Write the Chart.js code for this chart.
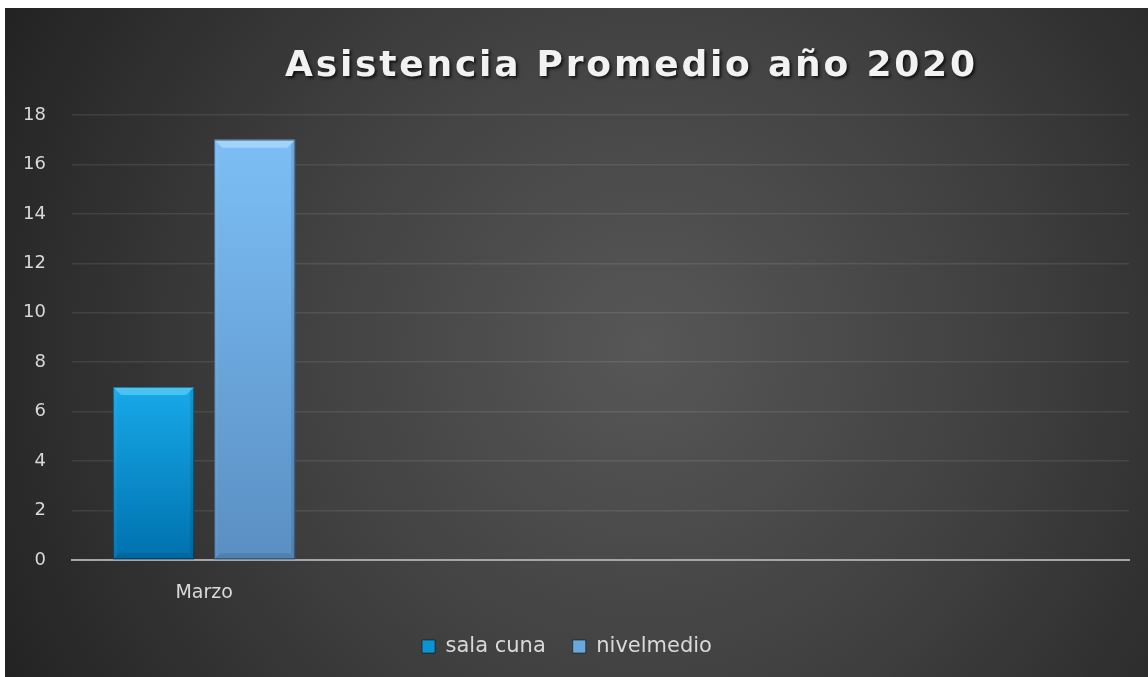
<!DOCTYPE html>
<html>
<head>
<meta charset="utf-8">
<script src="https://cdn.jsdelivr.net/npm/chart.js@4.4.1/dist/chart.umd.min.js"></script>
<style>
  html, body { margin: 0; padding: 0; background: #ffffff; }
  #wrap { position: absolute; left: 5px; top: 8px; width: 1143px; height: 669px; overflow: hidden; }
  #title {
    position: absolute; left: 285px; top: 46px; margin: 0;
    font-family: "DejaVu Sans", sans-serif; font-weight: bold; font-size: 36px;
    line-height: 36px; letter-spacing: 2.8px; color: #f2f2f2; white-space: nowrap;
    text-shadow: 2px 2px 3px rgba(0,0,0,0.7);
  }
</style>
</head>
<body>
<div id="wrap"><canvas id="c"></canvas></div>
<h1 id="title">Asistencia Promedio año 2020</h1>
<script>
// ---- data ----
const categories = ['Marzo', '', '', ''];
const seriesNames = ['sala cuna', 'nivelmedio'];
const salaCuna = [7, null, null, null];
const nivelMedio = [17, null, null, null];
const yMin = 0;
const yMax = 18;
const yStep = 2;

// ---- styles ----
const palette = {
  sala: { top: '#17a9e9', bottom: '#0071ae', bevel: '#48c3f2', solid: '#0b94d4' },
  nivel: { top: '#7cbff5', bottom: '#5a8fc3', bevel: '#a2d3f9', solid: '#6aa8dc' }
};
const textColor = '#d9d9d9';
const fontFamily = '"DejaVu Sans", sans-serif';

function barFill(key) {
  return function (ctx) {
    const chart = ctx.chart;
    const p = palette[key];
    if (!chart.chartArea || ctx.raw == null) return p.solid;
    const ys = chart.scales.y;
    const yTop = ys.getPixelForValue(ctx.raw);
    const yBase = ys.getPixelForValue(0);
    const g = chart.ctx.createLinearGradient(0, yTop, 0, yBase);
    g.addColorStop(0, p.top);
    g.addColorStop(1, p.bottom);
    return g;
  };
}

const bgPlugin = {
  id: 'bg',
  beforeDraw(chart) {
    const { ctx, width, height } = chart;
    ctx.save();
    const g = ctx.createRadialGradient(640, 340, 0, 640, 340, 720);
    g.addColorStop(0, '#575757');
    g.addColorStop(0.5, '#404040');
    g.addColorStop(1, '#232323');
    ctx.fillStyle = g;
    ctx.fillRect(0, 0, width, height);
    ctx.restore();
  }
};

const bevelPlugin = {
  id: 'bevel',
  afterDatasetsDraw(chart) {
    const ctx = chart.ctx;
    const keys = ['sala', 'nivel'];
    chart.data.datasets.forEach((ds, di) => {
      const meta = chart.getDatasetMeta(di);
      const p = palette[keys[di]];
      meta.data.forEach((el, i) => {
        if (ds.data[i] == null) return;
        const { x, y, base, width } = el.getProps(['x', 'y', 'base', 'width'], true);
        const l = x - width / 2, r = x + width / 2;
        const b = 8;
        ctx.save();
        ctx.beginPath();
        ctx.moveTo(l, y); ctx.lineTo(r, y); ctx.lineTo(r - b, y + b); ctx.lineTo(l + b, y + b); ctx.closePath();
        ctx.fillStyle = p.bevel; ctx.fill();
        ctx.beginPath();
        ctx.moveTo(l, y); ctx.lineTo(l + 4, y + 4); ctx.lineTo(l + 4, base - 4); ctx.lineTo(l, base); ctx.closePath();
        ctx.fillStyle = 'rgba(255,255,255,0.04)'; ctx.fill();
        ctx.beginPath();
        ctx.moveTo(r, y); ctx.lineTo(r - 4, y + 4); ctx.lineTo(r - 4, base - 4); ctx.lineTo(r, base); ctx.closePath();
        ctx.fillStyle = 'rgba(0,0,0,0.10)'; ctx.fill();
        ctx.beginPath();
        ctx.moveTo(l, base); ctx.lineTo(l + 6, base - 6); ctx.lineTo(r - 6, base - 6); ctx.lineTo(r, base); ctx.closePath();
        ctx.fillStyle = 'rgba(0,0,0,0.10)'; ctx.fill();
        ctx.strokeStyle = 'rgba(0,0,0,0.4)'; ctx.lineWidth = 1;
        ctx.strokeRect(l + 0.5, y + 0.5, width - 1, base - y - 1);
        ctx.restore();
      });
    });
  }
};

new Chart(document.getElementById('c'), {
  type: 'bar',
  data: {
    labels: categories,
    datasets: [
      { label: seriesNames[0], data: salaCuna, backgroundColor: barFill('sala'), borderWidth: 0 },
      { label: seriesNames[1], data: nivelMedio, backgroundColor: barFill('nivel'), borderWidth: 0 }
    ]
  },
  options: {
    responsive: true,
    maintainAspectRatio: false,
    animation: false,
    devicePixelRatio: 1,
    categoryPercentage: 0.765,
    barPercentage: 0.802,
    layout: { padding: { top: 107, right: 19, left: 0, bottom: 10 } },
    plugins: {
      title: { display: false },
      tooltip: { enabled: false },
      legend: {
        display: true,
        position: 'bottom',
        labels: {
          color: textColor,
          font: { family: fontFamily, size: 21 },
          boxWidth: 13,
          boxHeight: 13,
          padding: 27,
          generateLabels(chart) {
            const keys = ['sala', 'nivel'];
            return chart.data.datasets.map((ds, i) => ({
              text: ds.label,
              fillStyle: palette[keys[i]].solid,
              strokeStyle: 'rgba(0,0,0,0.5)',
              lineWidth: 1,
              fontColor: textColor,
              hidden: false,
              datasetIndex: i
            }));
          }
        }
      }
    },
    scales: {
      x: {
        grid: { display: false, drawTicks: false },
        border: { display: true, color: '#a6a6a6', width: 2 },
        ticks: { color: textColor, font: { family: fontFamily, size: 19 }, padding: 22, maxRotation: 0, autoSkip: false },
        afterFit(scale) { scale.height = 49; }
      },
      y: {
        min: yMin,
        max: yMax,
        ticks: { stepSize: yStep, color: textColor, font: { family: fontFamily, size: 18 }, padding: 26 },
        grid: { color: 'rgba(255,255,255,0.09)', lineWidth: 1.5, drawTicks: false },
        border: { display: false },
        afterFit(scale) { scale.width = 67; }
      }
    }
  },
  plugins: [bgPlugin, bevelPlugin]
});
</script>
</body>
</html>
